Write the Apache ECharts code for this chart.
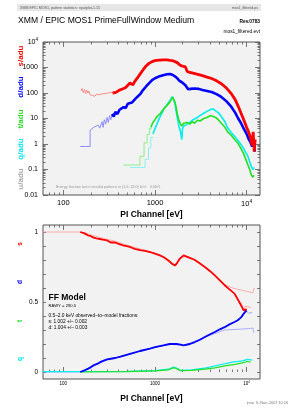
<!DOCTYPE html>
<html><head><meta charset="utf-8">
<script src="https://cdn.jsdelivr.net/npm/echarts@6/dist/echarts.min.js"></script>
<style>html,body{margin:0;padding:0;background:#fff}#c{width:289px;height:408px}</style>
</head><body><div id="c"></div>
<script>
// ---------- tick labels / tick positions ----------
const xMajor = [100, 1000, 10000];
const xMinor = [70,80,90,200,300,400,500,600,700,800,900,2000,3000,4000,5000,6000,7000,8000,9000];
const yTopMajor = [0.01, 0.1, 1, 10, 100, 1000, 10000];
const yTopMinor = [0.02,0.03,0.04,0.05,0.06,0.07,0.08,0.09,0.2,0.3,0.4,0.5,0.6,0.7,0.8,0.9,2,3,4,5,6,7,8,9,20,30,40,50,60,70,80,90,200,300,400,500,600,700,800,900,2000,3000,4000,5000,6000,7000,8000,9000];
const yBotTicks = [0,0.1,0.2,0.3,0.4,0.5,0.6,0.7,0.8,0.9,1];
const yBotLabels = [0, 0.5, 1];

// ---------- top panel: counts per channel [E(eV), value] ----------
const sTopLow = [[156,120],[160,150],[165,105],[170,140],[175,95],[180,130],[185,100],[190,120],[196,85],[202,100],[208,80],[215,95],[222,75],[230,90],[238,80],[246,85],[255,78],[265,92],[275,82],[285,95],[295,88],[305,100],[318,92],[330,105],[345,98],[360,112]];
const sTop = [[345,98],[360,112],[375,105],[390,118],[410,130],[430,125],[455,150],[480,165],[505,200],[530,245],[550,220],[575,210],[600,280],[640,380],[690,560],[740,800],[800,1150],[860,1450],[930,1700],[1000,1850],[1100,1950],[1230,2000],[1350,1980],[1470,1900],[1570,1850],[1650,1750],[1750,1550],[1850,1300],[1950,1150],[2050,1080],[2150,1050],[2250,700],[2400,640],[2600,600],[2800,560],[3000,530],[3300,480],[3700,420],[4150,370],[4700,300],[5300,230],[6000,160],[6800,95],[7500,55],[8100,30],[8700,16],[9300,9],[10000,4.5],[10500,3],[11000,1.8],[11500,0.9],[11800,3],[12100,0.5],[12400,1.5]];
const dTopLow = [[153,0.8],[196,0.8],[196,3.5],[205,4],[215,4.5],[225,4.8],[240,5.5],[250,4.2],[258,6],[265,7.5],[272,4.5],[280,9],[290,6],[300,11],[310,7],[320,13],[330,9],[340,15],[355,12]];
const dTop = [[340,15],[355,12],[370,18],[390,15],[410,22],[430,19],[455,28],[480,26],[505,38],[530,33],[560,42],[600,55],[640,70],[690,90],[740,130],[800,180],[860,240],[930,320],[1000,380],[1100,440],[1230,500],[1350,540],[1450,560],[1550,520],[1650,450],[1750,380],[1850,300],[1950,270],[2050,250],[2150,200],[2300,140],[2450,145],[2700,150],[3000,145],[3300,130],[3700,120],[4150,110],[4700,90],[5300,70],[6000,48],[6800,29],[7500,17],[8100,10],[8700,6.5],[9300,4],[10000,2.5],[10500,1.6],[11000,1.2],[11500,0.8],[11900,1.4],[12300,0.5]];
const tTopLow = [[452,0.15],[686,0.15],[686,0.33],[760,0.33],[760,1.1],[820,1.1],[820,2.4],[870,2.4],[870,4],[920,4]];
const tTop = [[900,4.5],[950,7],[1000,9],[1050,12],[1100,11],[1150,16],[1200,20],[1260,18],[1320,30],[1380,35],[1440,42],[1500,55],[1560,68],[1600,60],[1650,45],[1700,28],[1760,14],[1820,9],[1900,6],[1960,5],[2050,6.5],[2150,5.5],[2250,7],[2400,6],[2550,7.5],[2700,6.5],[2900,8.5],[3100,8],[3400,10],[3700,11],[4000,13],[4300,12],[4600,11],[4900,9],[5300,6.5],[5800,4.5],[6200,3],[6800,2.2],[7400,1.5],[8000,1.1],[8600,0.7],[9200,0.45],[9800,0.25],[10200,0.17],[10800,0.1],[11300,0.06],[11700,0.05],[12000,0.06]];
const qTopLow = [[534,0.12],[780,0.12],[780,0.25],[850,0.25],[850,0.7],[900,0.7],[900,1.8],[960,1.8]];
const qTop = [[950,2.5],[1000,4],[1050,6],[1100,9],[1150,13],[1200,17],[1260,25],[1320,30],[1380,38],[1440,48],[1500,60],[1550,72],[1600,62],[1650,40],[1700,20],[1760,10],[1820,5],[1900,3],[1960,1.5],[2000,4],[2050,5],[2150,4.5],[2250,6],[2400,7],[2550,8.5],[2700,9.5],[2900,11],[3100,13],[3400,16],[3700,19],[4000,22],[4300,24],[4600,20],[4900,17],[5300,12],[5800,7.5],[6200,4.3],[6800,2.8],[7400,2],[8000,1.4],[8600,1],[9200,0.7],[9800,0.45],[10200,0.37],[10800,0.2],[11300,0.13],[11700,0.1],[12100,0.12]];

// ---------- bottom panel: pattern fractions [E(eV), fraction] ----------
const sFrac = [[153,1.0],[170,0.99],[187,0.975],[200,0.97],[214,0.96],[230,0.955],[250,0.95],[270,0.945],[299,0.94],[330,0.925],[367,0.925],[400,0.915],[450,0.905],[534,0.893],[600,0.88],[686,0.87],[780,0.865],[880,0.857],[1000,0.845],[1130,0.833],[1250,0.82],[1400,0.797],[1520,0.775],[1650,0.76],[1750,0.78],[1870,0.81],[2050,0.833],[2130,0.82],[2400,0.815],[2730,0.8],[3100,0.775],[3500,0.75],[4000,0.72],[4500,0.69],[5100,0.655],[5760,0.62],[6500,0.59],[7380,0.56],[8000,0.52],[8700,0.476],[9300,0.44],[9700,0.43],[10000,0.45]];
const sModel = [[60,1.0],[153,1.0],[170,0.995],[190,0.985],[213,0.975],[240,0.965],[263,0.957],[300,0.948],[367,0.935],[450,0.915],[600,0.89],[880,0.86],[1130,0.835],[1400,0.8],[1650,0.765],[1870,0.81],[2130,0.825],[2730,0.8],[3500,0.75],[4500,0.69],[5760,0.625],[7000,0.6],[8700,0.585],[10200,0.575],[11700,0.565],[12100,0.6]];
const sModel2 = [[8700,0.5],[9300,0.44],[9500,0.43],[9600,0.47],[10500,0.465],[11200,0.46]];
const dFrac = [[153,0],[170,0.012],[187,0.024],[200,0.035],[214,0.048],[240,0.062],[263,0.076],[300,0.09],[367,0.1],[420,0.11],[534,0.13],[686,0.15],[880,0.167],[1000,0.178],[1230,0.19],[1450,0.2],[1720,0.2],[1900,0.195],[2050,0.19],[2400,0.2],[2730,0.214],[3100,0.23],[3500,0.25],[4000,0.27],[4500,0.286],[5100,0.305],[5760,0.32],[6500,0.34],[7380,0.357],[8000,0.37],[8700,0.39],[9300,0.417],[9700,0.43],[10000,0.44]];
const dModel = [[60,0],[153,0],[175,0.015],[200,0.03],[230,0.05],[263,0.07],[300,0.085],[367,0.097],[534,0.127],[880,0.165],[1450,0.198],[2050,0.19],[3500,0.248],[5760,0.3],[8000,0.305],[10500,0.31],[11700,0.314],[12000,0.28]];
const dModel2 = [[9300,0.42],[9800,0.44],[10500,0.42],[11500,0.425]];
const tFrac = [[153,0],[500,0.003],[1000,0.008],[1400,0.015],[1600,0.03],[1700,0.025],[1900,0.01],[2500,0.012],[3500,0.02],[4500,0.03],[6000,0.045],[7500,0.055],[9000,0.065],[10200,0.075],[11000,0.07]];
const qFrac = [[60,0.003],[500,0.004],[1000,0.01],[1400,0.02],[1600,0.035],[1700,0.03],[1900,0.012],[2500,0.015],[3500,0.028],[5000,0.05],[7000,0.07],[9000,0.08],[10200,0.09],[11500,0.085]];

const FONT = '"Liberation Sans", Arial, Helvetica, sans-serif';
const TICK = '#555';
const chart = echarts.init(document.getElementById('c'), null, {renderer:'canvas'});

function xAx(grid, pos, ticks, len, labels, size, name) {
  return {
    type:'log', gridIndex:grid, position:pos, min:60, max:14000, logBase:10,
    axisLine:{show:false}, splitLine:{show:false},
    axisTick:{show:true, inside:true, length:len, customValues:ticks, lineStyle:{color:TICK, width:0.8}},
    axisLabel: labels ? {show:true, customValues:labels, fontSize:size, fontFamily:FONT, color:'#000', margin:size>5?4:2,
      formatter: v => v >= 9999 ? '{a|10}{b|4}' : String(v),
      rich:{a:{fontSize:size, fontFamily:FONT}, b:{fontSize:size*0.65, fontFamily:FONT, padding:[0,0,size*0.6,0]}}} : {show:false},
    name: name || '', nameLocation:'middle', nameGap:15,
    nameTextStyle:{fontSize:8.5, fontFamily:FONT, color:'#000', fontWeight:'bold'}
  };
}
function yLog(grid, pos, ticks, len, labels) {
  return {
    type:'log', gridIndex:grid, position:pos, min:0.01, max:10000, logBase:10,
    axisLine:{show:false}, splitLine:{show:false},
    axisTick:{show:true, inside:true, length:len, customValues:ticks, lineStyle:{color:TICK, width:0.8}},
    axisLabel: labels ? {show:true, customValues:labels, fontSize:7, fontFamily:FONT, color:'#000', margin:5,
      formatter: v => v >= 9999 ? '{a|10}{b|4}' : String(v),
      rich:{a:{fontSize:7, fontFamily:FONT}, b:{fontSize:4.5, fontFamily:FONT, padding:[0,0,4,0]}}} : {show:false}
  };
}
function yLin(grid, pos, len, labels) {
  return {
    type:'value', gridIndex:grid, position:pos, min:-0.05, max:1.05,
    axisLine:{show:false}, splitLine:{show:false},
    axisTick:{show:true, inside:true, length:len, customValues:yBotTicks, lineStyle:{color:TICK, width:0.8}},
    axisLabel: labels ? {show:true, customValues:yBotLabels, fontSize:6.5, fontFamily:FONT, color:'#000', margin:5} : {show:false}
  };
}
function line(data, color, width, xi, yi, z) {
  return {type:'line', data:data, xAxisIndex:xi, yAxisIndex:yi, symbol:'none', silent:true, z:z||2,
    lineStyle:{color:color, width:width}, animation:false};
}
function txt(x, y, s, size, color, opt) {
  return Object.assign({type:'text', x:x, y:y, silent:true,
    style:{text:s, fontSize:size, fontFamily:FONT, fill:color||'#000', align:'left', verticalAlign:'middle'}}, opt||{});
}
function vtxt(x, y, s, size, color) {
  return {type:'text', x:x, y:y, rotation:Math.PI/2, silent:true,
    style:{text:s, fontSize:size, fontFamily:FONT, fill:color, align:'center', verticalAlign:'middle', fontWeight:'bold'}};
}

const option = {
  backgroundColor:'#fff',
  animation:false,
  grid:[
    {left:43, top:42, width:217, height:153, show:true, backgroundColor:'#f2f2f2', borderColor:'#555', borderWidth:1},
    {left:43, top:225, width:217, height:154, show:true, backgroundColor:'#f2f2f2', borderColor:'#555', borderWidth:1}
  ],
  xAxis:[
    xAx(0,'bottom',xMajor,5,xMajor,7.5,'PI Channel [eV]'),
    xAx(0,'bottom',xMinor,2.5,null),
    xAx(0,'top',xMajor,5,null),
    xAx(0,'top',xMinor,2.5,null),
    xAx(1,'bottom',xMajor,5,xMajor,4.5,'PI Channel [eV]'),
    xAx(1,'bottom',xMinor,2.5,null),
    xAx(1,'top',xMajor,5,null),
    xAx(1,'top',xMinor,2.5,null)
  ],
  yAxis:[
    yLog(0,'left',yTopMajor,5,yTopMajor),
    yLog(0,'left',yTopMinor,2.5,null),
    yLog(0,'right',yTopMajor,5,null),
    yLog(0,'right',yTopMinor,2.5,null),
    yLin(1,'left',3,true),
    yLin(1,'right',3,false)
  ],
  series:[
    line(sTopLow,'#ff8c8c',1,0,0),
    line(dTopLow,'#8c8cff',1,0,0),
    line(tTopLow,'#8cf08c',1,0,0),
    line(qTopLow,'#8cf0f0',1,0,0),
    line(qTop,'#00eeee',1.6,0,0,3),
    line(tTop,'#22e022',1.6,0,0,3),
    line(dTop,'#0000ff',2.6,0,0,4),
    line(sTop,'#ff0000',2.8,0,0,4),

    line(sModel,'#ff9a9a',0.8,4,4),
    line(sModel2,'#ff9a9a',0.8,4,4),
    line(dModel,'#9a9aff',0.8,4,4),
    line(dModel2,'#9a9aff',0.8,4,4),
    line(qFrac,'#00eeee',1.2,4,4,3),
    line(tFrac,'#22e022',1.2,4,4,3),
    line(dFrac,'#0000ff',1.8,4,4,4),
    line(sFrac,'#ff0000',1.8,4,4,4)
  ],
  graphic:[
    {type:'rect', shape:{x:17, y:4, width:244, height:7}, style:{fill:'#e6e6e6'}, silent:true},
    txt(20, 7.5, 'XMM EPIC MOS1, pattern statistics: epatplot-1.15', 3.6, '#555'),
    {type:'text', x:258, y:7.5, silent:true, style:{text:'mos1_filtered.ps', fontSize:3.6, fontFamily:FONT, fill:'#555', align:'right', verticalAlign:'middle'}},
    txt(18, 20.5, 'XMM / EPIC MOS1 PrimeFullWindow Medium', 8.6, '#000'),
    {type:'text', x:260, y:21.5, silent:true, style:{text:'Rev.0783', fontSize:4.8, fontFamily:FONT, fill:'#000', align:'right', verticalAlign:'middle', fontWeight:'bold'}},
    {type:'text', x:260, y:31.5, silent:true, style:{text:'mos1_filtered.evt', fontSize:4.8, fontFamily:FONT, fill:'#000', align:'right', verticalAlign:'middle'}},
    vtxt(21, 56, 's/adu', 8, '#ff0000'),
    vtxt(21, 87, 'd/adu', 8, '#0000ff'),
    vtxt(21, 119, 't/adu', 8, '#22dd22'),
    vtxt(21, 149, 'q/adu', 8, '#00e8e8'),
    vtxt(21, 179, 'u/adu', 8, '#aaaaaa'),
    txt(56, 187, 'Energy fraction lost in invalid patterns in [1.0\u201332.0] keV:   0.00%', 3.7, '#999'),
    vtxt(20, 244, 's', 6.5, '#ff0000'),
    vtxt(20, 282, 'd', 6.5, '#0000ff'),
    vtxt(20, 321, 't', 6.5, '#22dd22'),
    vtxt(20, 359, 'q', 6.5, '#00e8e8'),
    {type:'text', x:48.5, y:298, silent:true, style:{text:'FF Model', fontSize:8.5, fontFamily:FONT, fill:'#000', align:'left', verticalAlign:'middle', fontWeight:'bold'}},
    txt(48.5, 306, 'RAWY = 290.5', 4.2, '#000'),
    txt(48.5, 315.3, '0.5\u20132.0 keV observed\u2013to\u2013model fractions:', 4.8, '#000'),
    txt(48.5, 321.2, 's: 1.002 +/\u2013 0.002', 4.8, '#000'),
    txt(48.5, 327.4, 'd: 1.004 +/\u2013 0.003', 4.8, '#000'),
    {type:'text', x:288, y:403, silent:true, style:{text:'jrnio  9\u2013Nov\u20132007 10:26', fontSize:3.8, fontFamily:FONT, fill:'#777', align:'right', verticalAlign:'middle'}}
  ]
};
chart.setOption(option);
</script>
</body></html>
